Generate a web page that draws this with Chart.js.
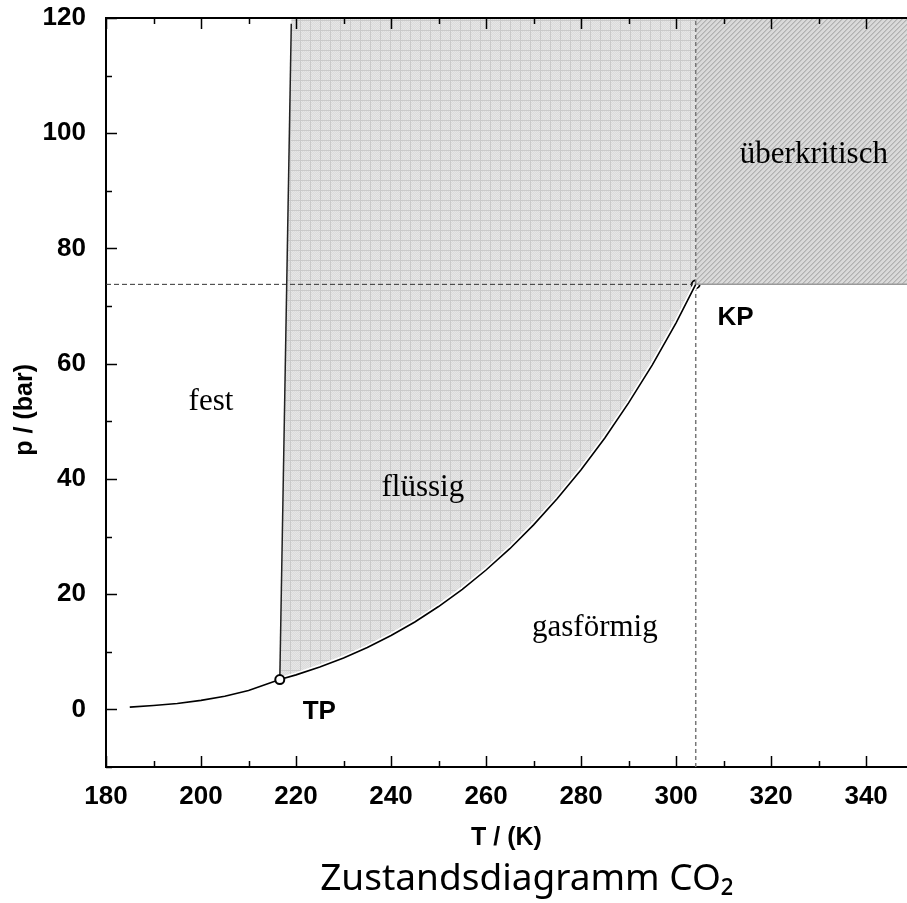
<!DOCTYPE html>
<html lang="de">
<head>
<meta charset="UTF-8">
<title>Zustandsdiagramm CO2</title>
<script src="https://cdnjs.cloudflare.com/ajax/libs/Chart.js/4.4.0/chart.umd.min.js"></script>
<style>
  html, body { margin: 0; padding: 0; background: #fff; overflow: hidden; }
  .wrap { width: 907px; height: 903px; position: relative; }
</style>
</head>
<body>
<div class="wrap"><canvas id="phase"></canvas></div>
<script>
// Achsenbereich
const xMin = 180, xMax = 348.6;
const yMin = -10, yMax = 120;

// Sublimationskurve fest/gasfoermig (T in K, p in bar)
const subT = [185, 190, 195, 200, 205, 210, 216.58];
const subP = [0.4, 0.68, 1.03, 1.56, 2.28, 3.29, 5.18];

// Dampfdruckkurve fluessig/gasfoermig, TP bis KP
const vapT = [216.58, 220, 225, 230, 235, 240, 245, 250, 255, 260, 265, 270, 275, 280, 285, 290, 295, 300, 304.13];
const vapP = [5.18, 5.99, 7.36, 8.93, 10.73, 12.83, 15.17, 17.85, 20.84, 24.19, 27.89, 32.03, 36.59, 41.6, 47.1, 53.2, 59.8, 67.1, 73.77];

// Schmelzkurve fest/fluessig
const meltT = [216.58, 219.0];
const meltP = [5.18, 119];

// Tripelpunkt und kritischer Punkt
const tpT = 216.58, tpP = 5.18;
const kpT = 304.13, kpP = 73.77;

// Beschriftungen der Gebiete (Grundlinie in Datenkoordinaten)
const regionNames = ['fest', 'flüssig', 'gasförmig', 'überkritisch'];
const regionT = [202.1, 246.7, 282.9, 329.0];
const regionP = [51.9, 37.1, 12.7, 94.9];

const pointNames = ['TP', 'KP'];
const pointT = [224.9, 312.5];
const pointP = [-1.6, 66.8];

const toXY = (ts, ps) => ts.map((t, i) => ({ x: t, y: ps[i] }));

// Flaechen
const liquidShape = [{ x: meltT[1], y: yMax }]
  .concat(toXY(meltT, meltP).reverse())
  .concat(toXY(vapT, vapP).slice(1))
  .concat([{ x: kpT, y: yMax }]);
const superShape = [
  { x: kpT, y: kpP }, { x: xMax, y: kpP }, { x: xMax, y: yMax }, { x: kpT, y: yMax }
];

// Muster: Kaestchen fuer fluessig, Schraffur fuer ueberkritisch
function makePattern(size, shade) {
  const c = document.createElement('canvas');
  c.width = size; c.height = size;
  const g = c.getContext('2d');
  const img = g.createImageData(size, size);
  for (let yy = 0; yy < size; yy++) {
    for (let xx = 0; xx < size; xx++) {
      const v = shade(xx, yy);
      const k = (yy * size + xx) * 4;
      img.data[k] = v; img.data[k + 1] = v; img.data[k + 2] = v; img.data[k + 3] = 255;
    }
  }
  g.putImageData(img, 0, 0);
  return g.createPattern(c, 'repeat');
}
const ctxMain = document.getElementById('phase').getContext('2d');
const gridPattern = makePattern(10, (x, y) => {
  if (x === 0 || y === 0) return 0xc9;
  return (x + y) % 2 === 0 ? 0xe6 : 0xdb;
});
const hatchPattern = makePattern(5, (x, y) => {
  const d = (x + y) % 5;
  if (d === 0) return 0xb2;
  if (d === 1) return 0xc4;
  return 0xda;
});

const lineDs = (data, color, width, order, extra) => Object.assign({
  data: data, borderColor: color, borderWidth: width, pointRadius: 0,
  fill: false, tension: 0, order: order
}, extra || {});

const labelPlugin = {
  id: 'phaseLabels',
  afterDatasetsDraw(chart) {
    const { ctx, chartArea: a, scales: { x, y } } = chart;
    ctx.save();
    // Rahmen oben
    ctx.strokeStyle = '#000';
    ctx.lineWidth = 2;
    ctx.beginPath();
    ctx.moveTo(a.left, a.top);
    ctx.lineTo(a.right, a.top);
    ctx.stroke();
    // Teilstriche nach innen
    ctx.lineWidth = 1.5;
    x.ticks.forEach(t => {
      if (t.value % 10 !== 0) return;
      const len = t.value % 20 === 0 ? 11 : 6;
      const px = Math.round(x.getPixelForValue(t.value)) + 0.5;
      ctx.beginPath();
      ctx.moveTo(px, a.bottom); ctx.lineTo(px, a.bottom - len);
      ctx.moveTo(px, a.top); ctx.lineTo(px, a.top + len);
      ctx.stroke();
    });
    y.ticks.forEach(t => {
      if (t.value % 10 !== 0) return;
      const len = t.value % 20 === 0 ? 11 : 6;
      const py = Math.round(y.getPixelForValue(t.value)) + 0.5;
      ctx.beginPath();
      ctx.moveTo(a.left, py); ctx.lineTo(a.left + len, py);
      ctx.stroke();
    });
    // Gebiete
    ctx.fillStyle = '#000';
    ctx.textAlign = 'center';
    ctx.textBaseline = 'alphabetic';
    ctx.font = '31px "Liberation Serif", "Times New Roman", serif';
    regionNames.forEach((n, i) => {
      ctx.fillText(n, x.getPixelForValue(regionT[i]), y.getPixelForValue(regionP[i]));
    });
    ctx.font = 'bold 26px "Liberation Sans", Arial, sans-serif';
    pointNames.forEach((n, i) => {
      ctx.fillText(n, x.getPixelForValue(pointT[i]), y.getPixelForValue(pointP[i]));
    });
    ctx.restore();
  },
  afterDraw(chart) {
    const { ctx } = chart;
    ctx.save();
    ctx.fillStyle = '#000';
    ctx.textAlign = 'center';
    ctx.textBaseline = 'alphabetic';
    ctx.font = '37px "Noto Sans", "Open Sans", sans-serif';
    ctx.fillText('Zustandsdiagramm CO₂', 527, 890);
    ctx.restore();
  }
};

const tickFont = { family: '"Liberation Sans", Arial, sans-serif', weight: 'bold', size: 26 };
const titleFont = { family: '"Liberation Sans", Arial, sans-serif', weight: 'bold', size: 25 };

const noPad = s => { s.paddingLeft = 0; s.paddingRight = 0; s.paddingTop = 0; s.paddingBottom = 0; };

new Chart(ctxMain, {
  type: 'line',
  data: {
    datasets: [
      lineDs([{ x: tpT, y: tpP }], '#000', 2, 0, {
        showLine: false, pointRadius: 4.5, pointBorderWidth: 2,
        pointBorderColor: '#000', pointBackgroundColor: '#fff'
      }),
      lineDs(toXY(subT, subP), '#000', 1.6, 1),
      lineDs(toXY(vapT, vapP), '#000', 1.6, 1),
      lineDs(toXY(meltT, meltP), '#222', 1.5, 1),
      lineDs(toXY(vapT, vapP), '#fff', 5, 2),
      lineDs([{ x: xMin, y: kpP }, { x: kpT, y: kpP }], '#333', 1, 2, { borderDash: [5, 3] }),
      lineDs([{ x: kpT, y: yMin }, { x: kpT, y: yMax }], '#777', 1.5, 2, { borderDash: [4, 3] }),
      lineDs([{ x: kpT, y: kpP }, { x: xMax, y: kpP }], '#9a9a9a', 1.5, 2),
      lineDs(superShape, 'rgba(0,0,0,0)', 0, 3, { fill: 'shape', backgroundColor: hatchPattern }),
      lineDs([{ x: kpT, y: kpP }], '#000', 2, 3.5, {
        showLine: false, pointRadius: 4, pointBorderWidth: 1.8,
        pointBorderColor: '#000', pointBackgroundColor: 'rgba(0,0,0,0)'
      }),
      lineDs(liquidShape, 'rgba(0,0,0,0)', 0, 4, { fill: 'shape', backgroundColor: gridPattern })
    ]
  },
  options: {
    responsive: true,
    maintainAspectRatio: false,
    animation: false,
    layout: { autoPadding: false, padding: { top: 18, left: 0, right: 0, bottom: 0 } },
    plugins: {
      legend: { display: false },
      tooltip: { enabled: false },
      title: { display: false }
    },
    scales: {
      x: {
        type: 'linear', min: xMin, max: xMax,
        grid: { display: false },
        border: { display: true, color: '#000', width: 2 },
        ticks: {
          stepSize: 10, autoSkip: false, maxRotation: 0, padding: 6, includeBounds: false,
          color: '#000', font: tickFont,
          callback: v => (v % 20 === 0 ? String(v) : '')
        },
        title: { display: true, text: 'T / (K)', color: '#000', font: titleFont, padding: { top: 0, bottom: 50 } },
        afterFit(s) { s.height = 136; noPad(s); }
      },
      y: {
        type: 'linear', min: yMin, max: yMax,
        grid: { display: false },
        border: { display: true, color: '#000', width: 2 },
        ticks: {
          stepSize: 10, autoSkip: false, padding: 12,
          color: '#000', font: tickFont,
          callback: v => (v % 20 === 0 ? String(v) : '')
        },
        title: { display: true, text: 'p / (bar)     ', color: '#000', font: titleFont, padding: { top: 10, bottom: 0 } },
        afterFit(s) { s.width = 106; noPad(s); }
      }
    }
  },
  plugins: [labelPlugin]
});
</script>
</body>
</html>
